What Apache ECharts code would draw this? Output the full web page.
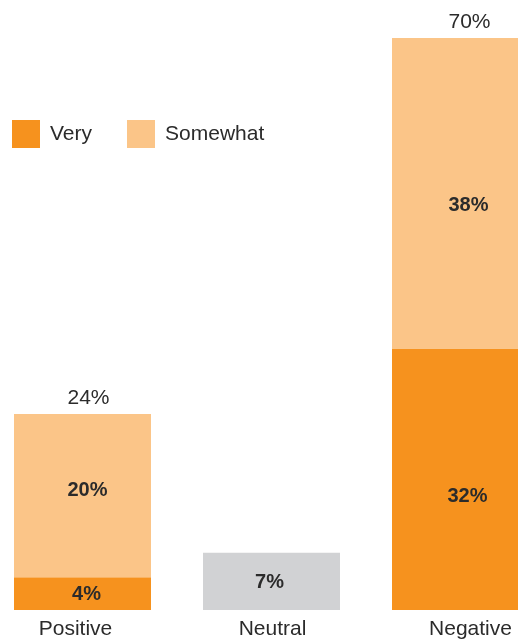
<!DOCTYPE html>
<html>
<head>
<meta charset="utf-8">
<script src="https://cdn.jsdelivr.net/npm/echarts@6/dist/echarts.min.js"></script>
<style>
  html, body { margin: 0; padding: 0; background: #fff; overflow: hidden; width: 518px; height: 640px; }
  /* the plot runs past the right edge, so the canvas is wider than the page */
  #chart { position: absolute; left: -12px; top: 0; width: 567px; height: 640px; }
</style>
</head>
<body>
<div id="chart"></div>
<script>
// Opinion categories and their shares (%)
const categories = ['Positive', 'Neutral', 'Negative'];
const veryValues = [4, null, 32];
const somewhatValues = [20, null, 38];
const neutralValues = [null, 7, null];
const totalValues = [24, null, 70];

const FONT = '"Liberation Sans", Arial, sans-serif';
const TEXT = '#2b2b2b';

// label nudges [dx, dy] per category
const veryLabelShift = [[4, 1], null, [7, 17]];
const somewhatLabelShift = [[5, -5], null, [8, 12]];
const neutralLabelShift = [null, [-2, 1], null];
const totalLabelShift = [[6, 0], null, [9, 0]];
// horizontal nudge of the category names under the bars
const categoryShift = [-7, 1, 10];

const innerLabel = {
  show: true,
  position: 'inside',
  formatter: p => p.value + '%',
  fontFamily: FONT,
  fontSize: 20,
  fontWeight: 'bold',
  color: TEXT
};

function withShift(values, shifts) {
  return values.map((v, i) => v == null ? null : {
    value: v,
    label: { offset: shifts[i] || [0, 0] }
  });
}

const categoryData = categories.map((name, i) => {
  const d = categoryShift[i];
  return {
    value: name,
    textStyle: { padding: d >= 0 ? [0, 0, 0, 2 * d] : [0, -2 * d, 0, 0] }
  };
});

const chart = echarts.init(document.getElementById('chart'), null, { renderer: 'canvas' });
chart.setOption({
  animation: false,
  grid: { left: 0, right: 0, top: 38, bottom: 30, containLabel: false },
  legend: {
    data: ['Very', 'Somewhat'],
    left: 19,
    top: 115,
    itemWidth: 28,
    itemHeight: 28,
    itemGap: 35,
    icon: 'rect',
    textStyle: { fontFamily: FONT, fontSize: 21, color: TEXT, padding: [0, 0, 0, 5] },
    selectedMode: false
  },
  xAxis: {
    type: 'category',
    data: categoryData,
    axisLine: { show: false },
    axisTick: { show: false },
    axisLabel: { fontFamily: FONT, fontSize: 21, color: TEXT, margin: 9 }
  },
  yAxis: {
    type: 'value',
    min: 0,
    max: 70,
    show: false,
    splitLine: { show: false }
  },
  series: [
    {
      name: 'Very',
      type: 'bar',
      stack: 'share',
      barWidth: 137,
      data: withShift(veryValues, veryLabelShift),
      itemStyle: { color: '#F6921E' },
      label: innerLabel
    },
    {
      name: 'Somewhat',
      type: 'bar',
      stack: 'share',
      barWidth: 137,
      data: withShift(somewhatValues, somewhatLabelShift),
      itemStyle: { color: '#FBC588' },
      label: innerLabel
    },
    {
      name: 'Neutral',
      type: 'bar',
      stack: 'share',
      barWidth: 137,
      data: withShift(neutralValues, neutralLabelShift),
      itemStyle: { color: '#D1D2D4' },
      label: innerLabel
    },
    {
      name: 'Total',
      type: 'line',
      data: withShift(totalValues, totalLabelShift),
      symbol: 'circle',
      symbolSize: 2,
      showSymbol: true,
      itemStyle: { color: 'rgba(255,255,255,0)' },
      lineStyle: { width: 0, color: 'rgba(255,255,255,0)' },
      label: {
        show: true,
        position: 'top',
        distance: 4,
        formatter: p => p.value + '%',
        fontFamily: FONT,
        fontSize: 21,
        color: TEXT
      }
    }
  ]
});
</script>
</body>
</html>
